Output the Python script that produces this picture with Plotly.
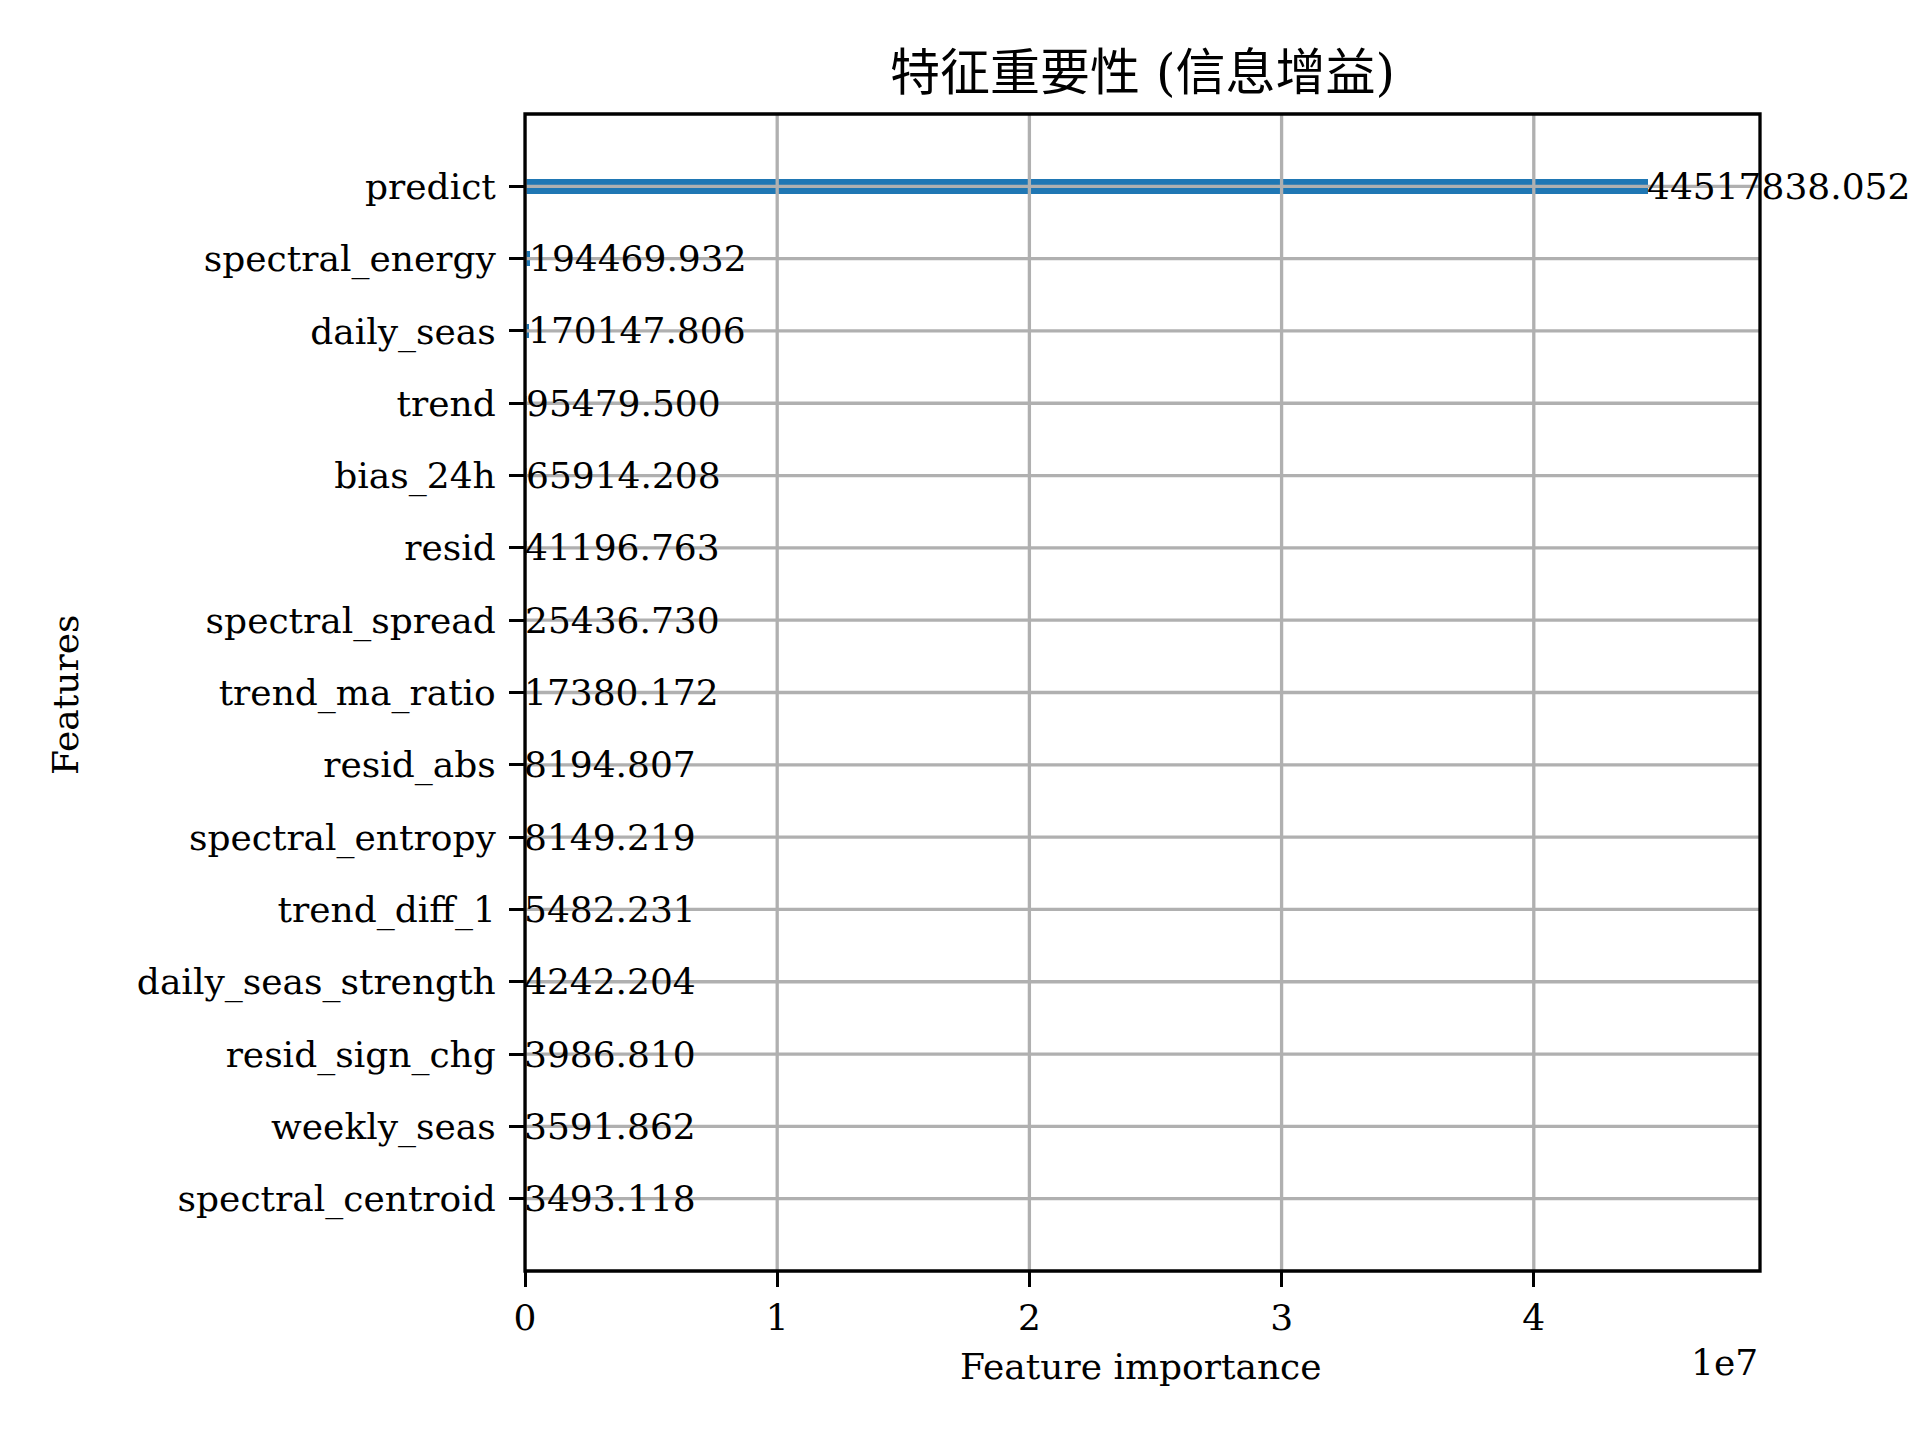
import plotly.graph_objects as go

# ---- data (top to bottom as shown) ----
features = ["predict", "spectral_energy", "daily_seas", "trend", "bias_24h", "resid",
            "spectral_spread", "trend_ma_ratio", "resid_abs", "spectral_entropy",
            "trend_diff_1", "daily_seas_strength", "resid_sign_chg", "weekly_seas",
            "spectral_centroid"]
importance = [44517838.052, 194469.932, 170147.806, 95479.500, 65914.208, 41196.763,
              25436.730, 17380.172, 8194.807, 8149.219, 5482.231, 4242.204, 3986.810,
              3591.862, 3493.118]
x_tick_vals = [0, 1e7, 2e7, 3e7, 4e7]
x_tick_text = ["0", "1", "2", "3", "4"]
title_text = "特征重要性 (信息增益)"
x_label = "Feature importance"
y_label = "Features"
x_offset_text = "1e7"

FONT = "DejaVu Serif, Noto Sans CJK SC, serif"
FS = 36
GRID = "#b0b0b0"
LW = 3.3

W, H = 1920, 1440
L, R, T, B = 525, 160, 114, 169

cats = features[::-1]
vals = importance[::-1]
xmax = max(importance) * 1.1

fig = go.Figure()
fig.add_trace(go.Bar(
    x=vals, y=cats, orientation="h", width=0.2,
    marker=dict(color="#1f77b4", line=dict(width=0)),
    hoverinfo="x+y",
))

shapes = []
# grid lines drawn above bars (as matplotlib does)
for xv in x_tick_vals:
    shapes.append(dict(type="line", xref="x", yref="paper", x0=xv, x1=xv, y0=0, y1=1,
                       line=dict(color=GRID, width=LW), layer="above"))
for c in cats:
    shapes.append(dict(type="line", xref="paper", yref="y", x0=0, x1=1, y0=c, y1=c,
                       line=dict(color=GRID, width=LW), layer="above"))
# frame
shapes.append(dict(type="rect", xref="paper", yref="paper", x0=0, x1=1, y0=0, y1=1,
                   line=dict(color="black", width=LW), layer="above"))

annotations = []
for c, v in zip(cats, vals):
    annotations.append(dict(x=v, y=c, xref="x", yref="y", text="%.3f" % v,
                            showarrow=False, xanchor="left", yanchor="middle",
                            font=dict(family=FONT, size=FS, color="black"),
                            xshift=-2, borderpad=0))

pw = W - L - R
ph = H - T - B
annotations.append(dict(text=y_label, xref="paper", yref="paper",
                        x=(65 - L) / pw, y=1 - (695 - T) / ph, textangle=-90,
                        showarrow=False, xanchor="center", yanchor="middle",
                        font=dict(family=FONT, size=FS, color="black")))
annotations.append(dict(text=x_label, xref="paper", yref="paper",
                        x=(1141 - L) / pw, y=1 - (1366 - T) / ph,
                        showarrow=False, xanchor="center", yanchor="middle",
                        font=dict(family=FONT, size=FS, color="black")))
annotations.append(dict(text=x_offset_text, xref="paper", yref="paper",
                        x=1, y=1 - (1362 - T) / ph,
                        showarrow=False, xanchor="right", yanchor="middle",
                        font=dict(family=FONT, size=FS, color="black")))

fig.update_layout(
    width=W, height=H, autosize=False,
    margin=dict(l=L, r=R, t=T, b=B, pad=0),
    paper_bgcolor="white", plot_bgcolor="white",
    showlegend=False, bargap=0,
    title=dict(text=title_text, x=(L + pw / 2) / W, xanchor="center",
               y=1 - 72 / H, yanchor="middle", yref="container",
               font=dict(family=FONT, size=50, color="black")),
    xaxis=dict(range=[0, xmax], tickvals=x_tick_vals, ticktext=x_tick_text,
               showgrid=False, zeroline=False, showline=False,
               ticks="outside", ticklen=15, tickwidth=LW, tickcolor="black",
               tickfont=dict(family=FONT, size=FS, color="black"),
               ticklabelstandoff=0),
    yaxis=dict(type="category", categoryorder="array", categoryarray=cats,
               range=[-1, len(cats)], showgrid=False, zeroline=False, showline=False,
               ticks="outside", ticklen=15, tickwidth=LW, tickcolor="black",
               tickfont=dict(family=FONT, size=FS, color="black"),
               ticklabelstandoff=6),
    shapes=shapes,
    annotations=annotations,
)

fig.write_html("out.html")
